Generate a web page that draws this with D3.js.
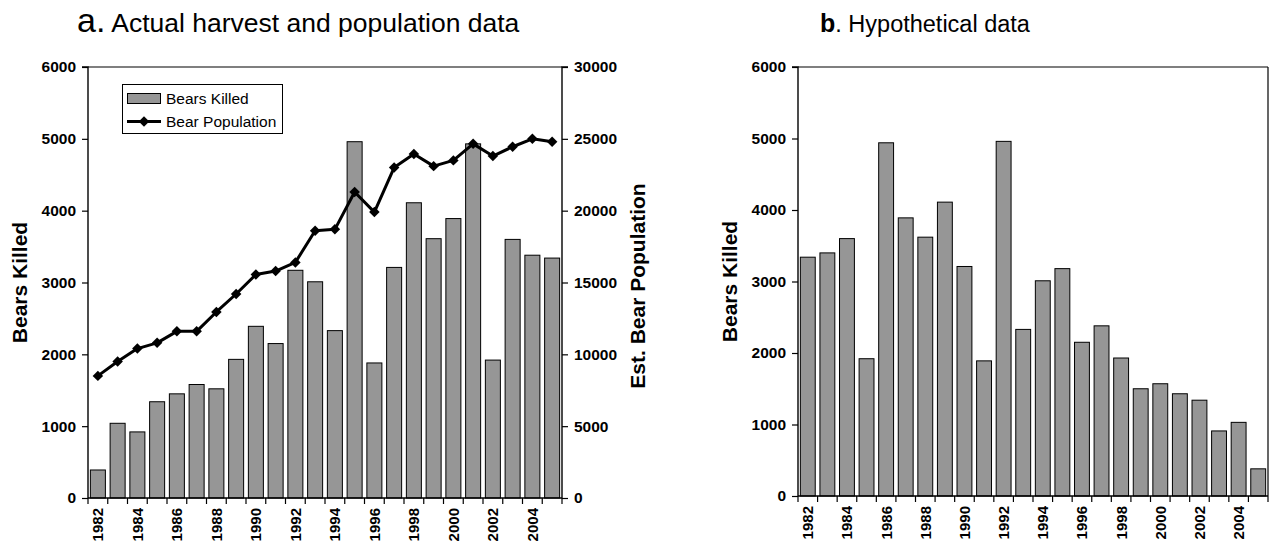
<!DOCTYPE html>
<html>
<head>
<meta charset="utf-8">
<script src="https://cdn.jsdelivr.net/npm/d3@7"></script>
<style>
  html, body { margin: 0; padding: 0; background: #fff; }
  svg { display: block; }
  text { font-family: "Liberation Sans", Arial, Helvetica, sans-serif; fill: #000; }
</style>
</head>
<body>
<svg id="chart" width="1269" height="545"></svg>
<script>
// ---- Data ----
const years = [1982,1983,1984,1985,1986,1987,1988,1989,1990,1991,1992,1993,1994,1995,1996,1997,1998,1999,2000,2001,2002,2003,2004,2005];
const bearsKilled = [390,1040,920,1340,1450,1580,1520,1930,2390,2150,3170,3010,2330,4960,1880,3210,4110,3610,3890,4930,1920,3600,3380,3340];
const bearPopulation = [8500,9500,10400,10800,11600,11600,12950,14200,15550,15800,16400,18600,18700,21300,19900,23000,23950,23100,23500,24650,23800,24450,25000,24800];
const hypotheticalKilled = [3340,3400,3600,1920,4940,3890,3620,4110,3210,1890,4960,2330,3010,3180,2150,2380,1930,1500,1570,1430,1340,910,1030,380];
const killedTicks = [0,1000,2000,3000,4000,5000,6000];
const popTicks = [0,5000,10000,15000,20000,25000,30000];
const yearLabels = [1982,1984,1986,1988,1990,1992,1994,1996,1998,2000,2002,2004];

const svg = d3.select("#chart");
const BAR_FILL = "#969696";

function drawPanel(g, opts) {
  const x = d3.scaleBand().domain(years).range([opts.x0, opts.x1]).paddingInner(0.24).paddingOuter(0.12);
  const y = d3.scaleLinear().domain([0, 6000]).range([opts.yb, opts.yt]);

  // bars
  g.append("g").selectAll("rect").data(opts.values).join("rect")
    .attr("x", (d, i) => x(years[i]))
    .attr("y", d => y(d))
    .attr("width", x.bandwidth())
    .attr("height", d => y(0) - y(d))
    .attr("fill", BAR_FILL)
    .attr("stroke", "#000")
    .attr("stroke-width", 1);

  // top border
  g.append("line").attr("x1", opts.x0).attr("x2", opts.x1).attr("y1", opts.yt).attr("y2", opts.yt)
    .attr("stroke", "#000").attr("stroke-width", 1.2);
  if (opts.rightBorder) {
    g.append("line").attr("x1", opts.x1).attr("x2", opts.x1).attr("y1", opts.yt).attr("y2", opts.yb)
      .attr("stroke", "#000").attr("stroke-width", 1.2);
  }

  // left axis
  const ya = g.append("g").attr("transform", `translate(${opts.x0},0)`)
    .call(d3.axisLeft(y).tickValues(killedTicks).tickSize(6).tickPadding(6).tickFormat(d3.format("d")));
  ya.select(".domain").attr("stroke-width", 1.4).attr("d", `M-6,${opts.yt}H0V${opts.yb}`);
  ya.selectAll(".tick line").attr("stroke-width", 1.2);
  ya.selectAll("text").style("font-size", "15.5px").style("font-weight", "bold");

  // bottom axis: boundary ticks + rotated year labels
  const xa = g.append("g").attr("transform", `translate(0,${opts.yb})`);
  xa.append("line").attr("x1", opts.x0).attr("x2", opts.x1).attr("y1", 0).attr("y2", 0)
    .attr("stroke", "#000").attr("stroke-width", 1.6);
  const step = x.step();
  const first = x(years[0]) - step * x.paddingInner() / 2;
  xa.selectAll("line.tk").data(d3.range(years.length + 1)).join("line").attr("class", "tk")
    .attr("x1", i => Math.min(opts.x1, first + i * step)).attr("x2", i => Math.min(opts.x1, first + i * step))
    .attr("y1", 0).attr("y2", 6).attr("stroke", "#000").attr("stroke-width", 1.2);
  xa.selectAll("text.yl").data(yearLabels).join("text").attr("class", "yl")
    .attr("transform", d => `translate(${x(d) + x.bandwidth() / 2},10) rotate(-90)`)
    .attr("text-anchor", "end").attr("dy", "0.36em")
    .style("font-size", "15px").style("font-weight", "bold")
    .text(d => d);

  // y title
  g.append("text").attr("transform", `translate(${opts.titleX},${(opts.yt + opts.yb) / 2}) rotate(-90)`)
    .attr("text-anchor", "middle").style("font-size", "21px").style("font-weight", "bold")
    .text("Bears Killed");
  return { x, y };
}

// ---- Panel a ----
const gA = svg.append("g");
const A = drawPanel(gA, { x0: 88, x1: 562, yt: 67, yb: 498, values: bearsKilled, titleX: 27, rightBorder: false });
const yPop = d3.scaleLinear().domain([0, 30000]).range([498, 67]);
const ra = gA.append("g").attr("transform", "translate(562,0)")
  .call(d3.axisRight(yPop).tickValues(popTicks).tickSize(6).tickPadding(6).tickFormat(d3.format("d")));
ra.select(".domain").attr("stroke-width", 1.4).attr("d", "M6,67H0V498");
ra.selectAll(".tick line").attr("stroke-width", 1.2);
ra.selectAll("text").style("font-size", "15.5px").style("font-weight", "bold");
gA.append("text").attr("transform", "translate(645,286) rotate(-90)")
  .attr("text-anchor", "middle").style("font-size", "21px").style("font-weight", "bold")
  .text("Est. Bear Population");

// population line
const line = d3.line().x((d, i) => A.x(years[i]) + A.x.bandwidth() / 2).y(d => yPop(d));
gA.append("path").datum(bearPopulation).attr("d", line)
  .attr("fill", "none").attr("stroke", "#000").attr("stroke-width", 3).attr("stroke-linejoin", "round");
const diamond = d3.symbol().type(d3.symbolDiamond2).size(70);
gA.append("g").selectAll("path").data(bearPopulation).join("path")
  .attr("transform", (d, i) => `translate(${A.x(years[i]) + A.x.bandwidth() / 2},${yPop(d)})`)
  .attr("d", diamond).attr("fill", "#000");

// legend
const lg = gA.append("g");
lg.append("rect").attr("x", 122.5).attr("y", 84.5).attr("width", 160).attr("height", 49)
  .attr("fill", "#fff").attr("stroke", "#000").attr("stroke-width", 1);
lg.append("rect").attr("x", 127.5).attr("y", 93.5).attr("width", 33).attr("height", 10)
  .attr("fill", BAR_FILL).attr("stroke", "#000").attr("stroke-width", 1);
lg.append("text").attr("x", 166).attr("y", 104).style("font-size", "15.5px").text("Bears Killed");
lg.append("line").attr("x1", 127).attr("x2", 161).attr("y1", 121.5).attr("y2", 121.5)
  .attr("stroke", "#000").attr("stroke-width", 3);
lg.append("path").attr("transform", "translate(144,121.5)").attr("d", diamond).attr("fill", "#000");
lg.append("text").attr("x", 166).attr("y", 127).style("font-size", "15.5px").text("Bear Population");

// title a
const tA = svg.append("text").attr("x", 77).attr("y", 32);
tA.append("tspan").style("font-size", "34px").text("a.");
tA.append("tspan").style("font-size", "26.5px").text(" Actual harvest and population data");

// ---- Panel b ----
const gB = svg.append("g");
drawPanel(gB, { x0: 798, x1: 1268, yt: 67, yb: 496, values: hypotheticalKilled, titleX: 737, rightBorder: true });
const tB = svg.append("text").attr("x", 820).attr("y", 32).style("font-size", "23.5px");
tB.append("tspan").style("font-weight", "bold").style("font-size", "25px").text("b");
tB.append("tspan").text(". Hypothetical data");
</script>
</body>
</html>
